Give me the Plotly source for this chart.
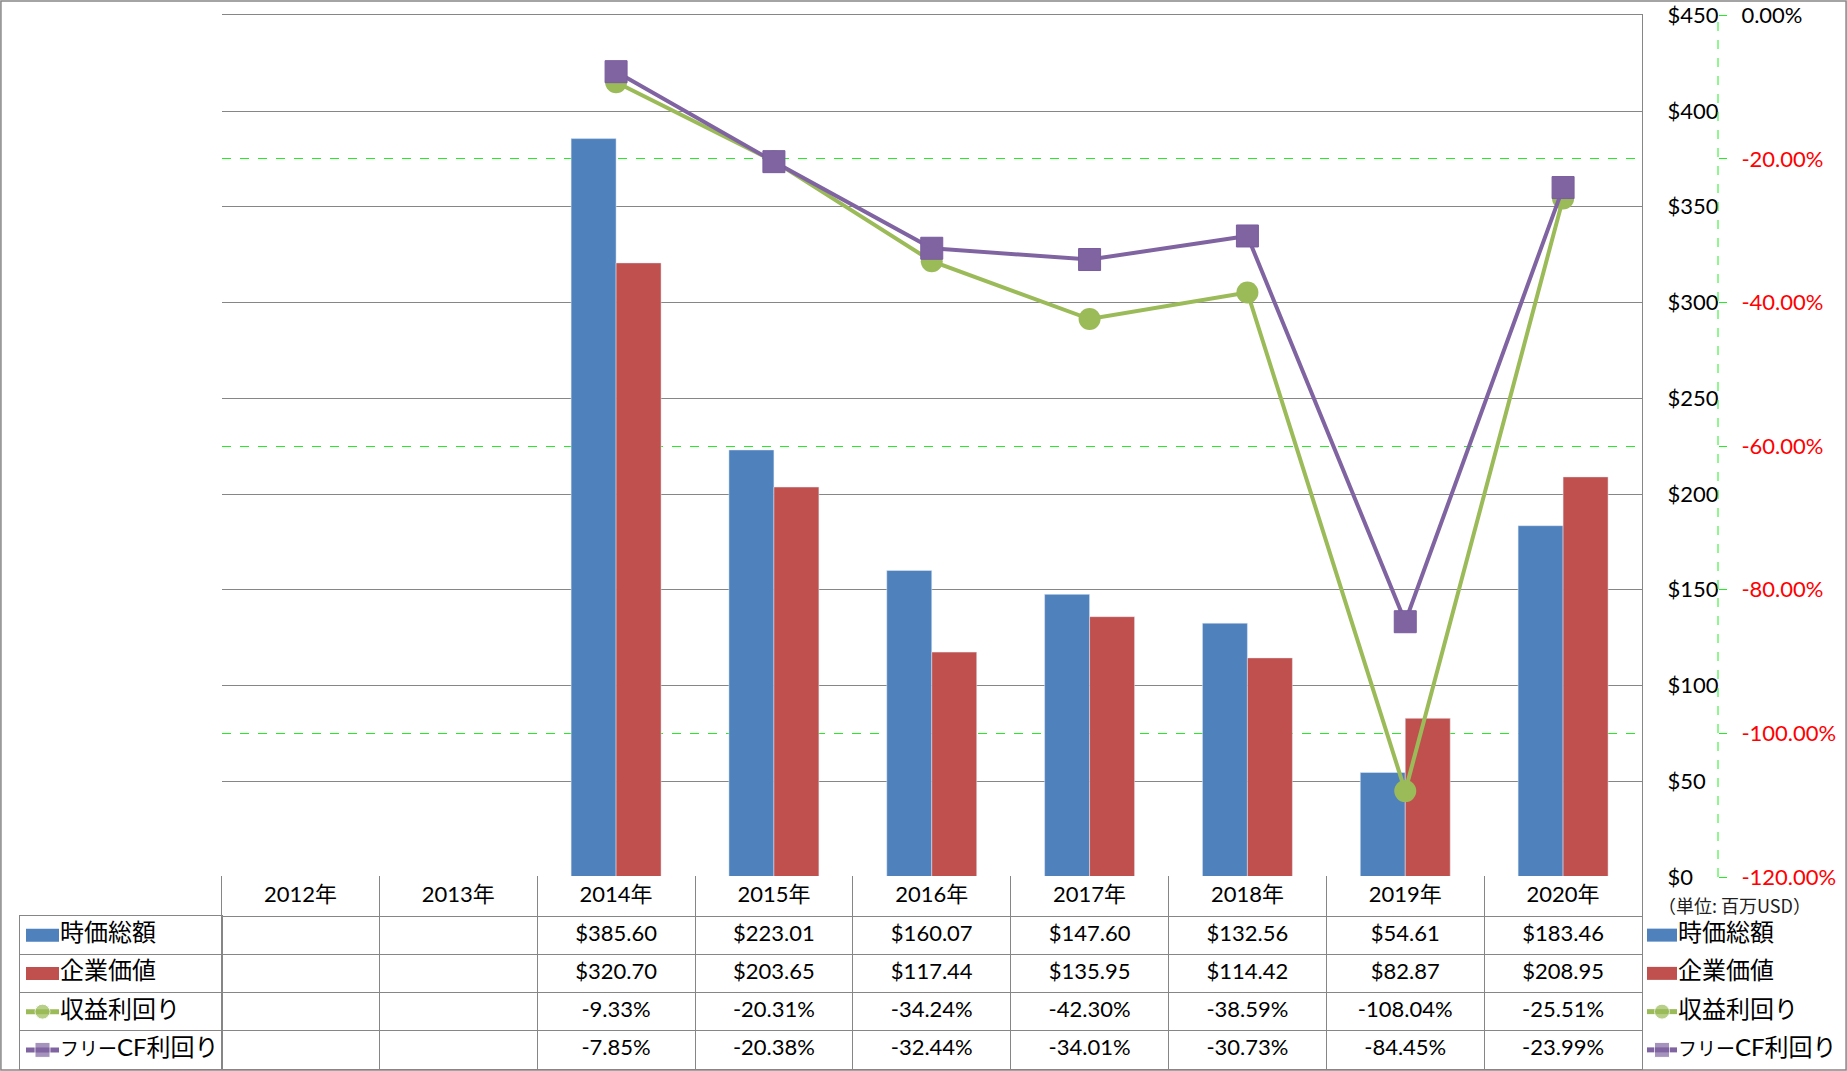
import plotly.graph_objects as go

# data (None = no value for that year)
years = ['2012年', '2013年', '2014年', '2015年', '2016年', '2017年', '2018年', '2019年', '2020年']
market_cap = [None, None, 385.60, 223.01, 160.07, 147.60, 132.56, 54.61, 183.46]
enterprise_value = [None, None, 320.70, 203.65, 117.44, 135.95, 114.42, 82.87, 208.95]
earnings_yield = [None, None, -9.33, -20.31, -34.24, -42.30, -38.59, -108.04, -25.51]
fcf_yield = [None, None, -7.85, -20.38, -32.44, -34.01, -30.73, -84.45, -23.99]
series_names = ['時価総額', '企業価値', '収益利回り', 'フリーCF利回り']
unit_note = '（単位: 百万USD）'
usd_ticks = [0, 50, 100, 150, 200, 250, 300, 350, 400, 450]
pct_ticks = [0, -20, -40, -60, -80, -100, -120]
pct_grid = [-20, -60, -100]

BLUE = '#4F81BD'
RED = '#C0504D'
GREEN = '#9BBB59'
PURPLE = '#8064A2'
GRID = '#868686'
DASH_GREEN = '#22EE22'
FONT = 'Lato, Noto Sans CJK JP'

W, H = 1847, 1071


def fx(x):
    return x / W


def fy(y):
    return 1 - y / H


# pixel frame of the excel chart
PL, PR, PT, PB = 221.5, 1642, 15.3, 877
TABLE_TOP, ROWS_TOP, TABLE_BOT = 876, 916, 1069
LABEL_L = 20
row_h = (TABLE_BOT - ROWS_TOP) / 4
header_top = 3.5 + (ROWS_TOP - TABLE_TOP) / row_h

fig = go.Figure()

# --- main chart ---
# empty trace so the dashed % grid axis gets drawn
fig.add_trace(go.Scatter(x=years, y=[None] * len(years), yaxis='y3', hoverinfo='skip'))
fig.add_trace(go.Bar(x=years, y=market_cap, name=series_names[0], marker_color=BLUE))
fig.add_trace(go.Bar(x=years, y=enterprise_value, name=series_names[1], marker_color=RED))
fig.add_trace(go.Scatter(x=years, y=earnings_yield, name=series_names[2], yaxis='y2',
                         mode='lines+markers', line=dict(color=GREEN, width=4),
                         marker=dict(symbol='circle', size=22, color=GREEN)))
fig.add_trace(go.Scatter(x=years, y=fcf_yield, name=series_names[3], yaxis='y2',
                         mode='lines+markers', line=dict(color=PURPLE, width=4),
                         marker=dict(symbol='square', size=22, color=PURPLE,
                                     line=dict(color='#7A5C9E', width=1))))

# --- data table ---
idx = list(range(len(years)))
fig.add_trace(go.Scatter(x=idx, y=[(3.5 + header_top) / 2] * len(years), text=years,
                         mode='text', textposition='middle center',
                         textfont=dict(size=22, color='black'), xaxis='x2', yaxis='y4'))
table_rows = [
    (3, market_cap, '${:.2f}'),
    (2, enterprise_value, '${:.2f}'),
    (1, earnings_yield, '{:.2f}%'),
    (0, fcf_yield, '{:.2f}%'),
]
for row, vals, fmt in table_rows:
    fig.add_trace(go.Scatter(x=idx, y=[row] * len(vals),
                             text=[fmt.format(v) if v is not None else '' for v in vals],
                             mode='text', textposition='middle center',
                             textfont=dict(size=22, color='black'), xaxis='x2', yaxis='y4'))

# legend keys: left in the table label column, right beside the chart
key_styles = [
    dict(color=BLUE, kind='bar'),
    dict(color=RED, kind='bar'),
    dict(color=GREEN, kind='circle'),
    dict(color=PURPLE, kind='square'),
]


def key_label(name):
    # excel's proportional gothic draws katakana narrow; squeeze them a little
    if name.startswith('フリー'):
        return "<span style='font-size:19px'>フリー</span>" + name[3:]
    return name


def add_key(x0, x1, xa, ya):
    for i, (name, st) in enumerate(zip(series_names, key_styles)):
        row = 3 - i
        xm = (x0 + x1) / 2
        if st['kind'] == 'bar':
            fig.add_trace(go.Scatter(x=[x0, x1], y=[row, row], mode='lines',
                                     line=dict(color=st['color'], width=13),
                                     xaxis=xa, yaxis=ya))
        else:
            fig.add_trace(go.Scatter(x=[x0, xm, x1], y=[row] * 3, mode='lines+markers',
                                     line=dict(color=st['color'], width=5),
                                     marker=dict(symbol=st['kind'], size=[0, 15, 0],
                                                 color=st['color']),
                                     xaxis=xa, yaxis=ya))
        fig.add_trace(go.Scatter(x=[x1 + 1], y=[row], text=[key_label(name)], mode='text',
                                 textposition='middle right', cliponaxis=False,
                                 textfont=dict(size=24, color='black'),
                                 xaxis=xa, yaxis=ya))


add_key(26, 59, 'x3', 'y5')
add_key(1647, 1677, 'x4', 'y6')

usd_text = ['$%d' % v for v in usd_ticks]
pct_text = ['<span style="color:%s">%.2f%%</span>' % ('black' if v == 0 else 'red', v)
            for v in pct_ticks]

fig.update_layout(
    width=W, height=H,
    margin=dict(l=0, r=0, t=0, b=0, pad=0, autoexpand=False),
    paper_bgcolor='white', plot_bgcolor='white',
    font=dict(family=FONT, size=22, color='black'),
    showlegend=False,
    barmode='group', bargap=0.43, bargroupgap=0,
    xaxis=dict(domain=[fx(PL), fx(PR)], anchor='y', type='category',
               range=[-0.5, 8.5], showgrid=False, showline=True, mirror=True,
               linecolor=GRID, ticks='', showticklabels=False, automargin=False),
    yaxis=dict(domain=[fy(PB), fy(PT)], anchor='x', side='right', range=[0, 450],
               tickvals=usd_ticks, ticktext=usd_text,
               showgrid=True, gridcolor=GRID,
               showline=True, linecolor=GRID, zeroline=False, ticks='',
               ticklabelstandoff=20, automargin=False),
    yaxis2=dict(overlaying='y', anchor='free', position=fx(1718), side='right',
                range=[-120, 0], tickvals=pct_ticks, ticktext=pct_text,
                showgrid=False, zeroline=False, showline=False, automargin=False,
                ticks='outside', ticklen=8, tickcolor=DASH_GREEN, ticklabelstandoff=10),
    yaxis3=dict(overlaying='y', anchor='x', side='left', range=[-120, 0],
                tickvals=pct_grid, showgrid=True, gridcolor=DASH_GREEN,
                griddash='dash', showticklabels=False, ticks='', zeroline=False,
                showline=False, automargin=False),
    # table body
    xaxis2=dict(domain=[fx(PL), fx(PR)], anchor='y4', range=[-0.5, 8.5],
                tickvals=[i + 0.5 for i in range(8)], showgrid=True, gridcolor=GRID,
                showticklabels=False, ticks='', zeroline=False, automargin=False,
                showline=True, linecolor=GRID),
    yaxis4=dict(domain=[fy(TABLE_BOT), fy(TABLE_TOP)], anchor='x2',
                range=[-0.5, header_top], tickvals=[0.5, 1.5, 2.5, 3.5],
                showgrid=True, gridcolor=GRID, showticklabels=False, ticks='',
                zeroline=False, showline=True, mirror=True, linecolor=GRID,
                automargin=False),
    # table label column
    xaxis3=dict(domain=[fx(LABEL_L), fx(PL)], anchor='y5', range=[LABEL_L, PL],
                showgrid=False, showticklabels=False, ticks='', zeroline=False,
                showline=True, mirror=True, linecolor=GRID, automargin=False),
    yaxis5=dict(domain=[fy(TABLE_BOT), fy(ROWS_TOP)], anchor='x3', range=[-0.5, 3.5],
                tickvals=[0.5, 1.5, 2.5], showgrid=True, gridcolor=GRID,
                showticklabels=False, ticks='', zeroline=False, automargin=False,
                showline=True, mirror=True, linecolor=GRID),
    # right-hand legend
    xaxis4=dict(domain=[fx(PR), 1], anchor='y6', range=[PR, W], visible=False),
    yaxis6=dict(domain=[fy(TABLE_BOT), fy(ROWS_TOP)], anchor='x4', range=[-0.5, 3.5],
                visible=False),
)

# dashed secondary axis line and the outer chart frame
fig.add_shape(type='line', xref='paper', yref='y2', x0=fx(1718), x1=fx(1718),
              y0=-120, y1=0, line=dict(color=DASH_GREEN, width=1, dash='dash'))
fig.add_shape(type='rect', xref='paper', yref='paper', x0=0.0005, x1=0.9995,
              y0=0.001, y1=0.999, line=dict(color=GRID, width=1.5))

fig.add_annotation(text=unit_note, xref='paper', yref='paper', x=fx(1656), y=fy(905),
                   xanchor='left', yanchor='middle', showarrow=False,
                   font=dict(size=18, color='#202020', family='Noto Sans CJK JP'))

# drop the default 8px page margin so the figure sits at the window origin
fig.write_html('out.html', config={'displayModeBar': False},
               post_script="document.body.style.margin='0';document.body.style.overflow='hidden';")
